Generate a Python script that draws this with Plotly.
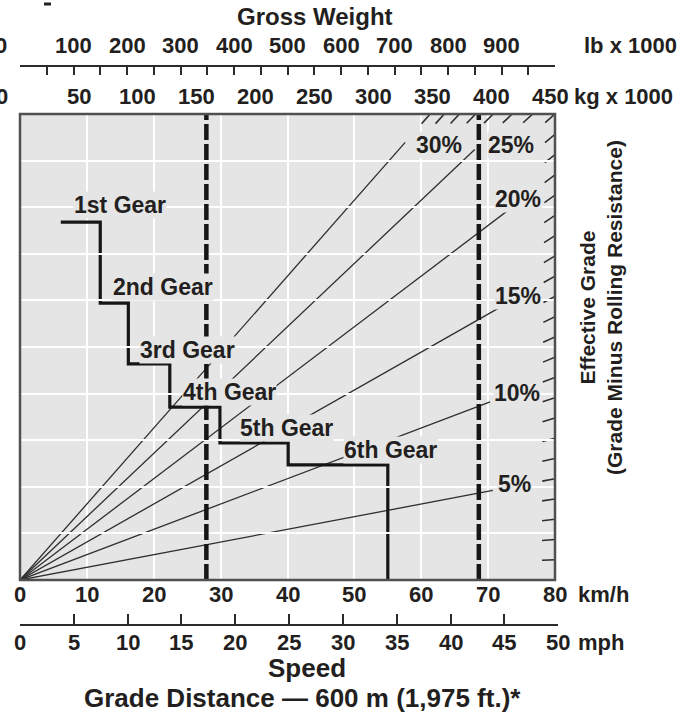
import plotly.graph_objects as go

# ---------------------------------------------------------------- data
GRADES = [5, 10, 15, 20, 25, 30]                    # labelled effective-grade rays, %
GRADE_LINE_END_KMH = [70.7, 70.3, 72.1, 73.6, 68.0, 57.6]  # where each ray stops short of its label
GRADE_TICKS = list(range(1, 31))                    # 1 % hatch marks on the chart border
GRADE_PER_DIV = 2.3                                 # % effective grade per vertical division at full scale

GEAR_NAMES = ["1st Gear", "2nd Gear", "3rd Gear", "4th Gear", "5th Gear", "6th Gear"]
SHIFT_SPEEDS_KMH = [6.1, 12.0, 16.2, 22.4, 29.9, 40.1, 55.0]  # start, upshifts, top speed
GEAR_LEVELS = [7.68, 5.94, 4.64, 3.71, 2.94, 2.47]           # rimpull plateau per gear (divisions)

WEIGHT_MARKS_KG = [158, 389]                        # empty / gross machine weight, kg x 1000

KMH_TICKS = [0, 10, 20, 30, 40, 50, 60, 70, 80]
MPH_TICKS = [0, 5, 10, 15, 20, 25, 30, 35, 40, 45, 50]
LB_TICKS = list(range(0, 1001, 50))
LB_LABELS = [100, 200, 300, 400, 500, 600, 700, 800, 900]
KG_LABELS = [50, 100, 150, 200, 250, 300, 350, 400, 450]

KMH_MAX = 80
LB_MAX = 1000
KG_PER_LB = 0.45359237
KMH_PER_MPH = 1.609344
Y_DIVS = 10

# ---------------------------------------------------------------- page geometry
W, H = 697, 724
ML, MR = 20, 130
PW = W - ML - MR


def px(x):
    return (x - ML) / PW


def py(y):
    return (H - y) / H


PLOT_L, PLOT_R, PLOT_T, PLOT_B = 20, 555, 114, 580
X_DOM = [0, px(PLOT_R)]
Y_DOM = [py(PLOT_B), py(PLOT_T)]
MPH_DOM_END = X_DOM[1] * (MPH_TICKS[-1] * KMH_PER_MPH / KMH_MAX)

FONT = "Liberation Sans, Arial, Helvetica, sans-serif"
INK = "#231f20"
BG = "#e5e5e5"
LINE = "#2b2b2b"

fig = go.Figure()


def grade_y(g, x):
    return g / GRADE_PER_DIV * x / KMH_MAX


# effective-grade rays from the origin
for g, xe in zip(GRADES, GRADE_LINE_END_KMH):
    fig.add_trace(go.Scatter(
        x=[0, xe], y=[0, grade_y(g, xe)], mode="lines",
        line=dict(color="#2e2e2e", width=1.3), hoverinfo="skip", showlegend=False))

# short 1 % hatch marks where each grade ray meets the border
plot_w, plot_h = PLOT_R - PLOT_L, PLOT_B - PLOT_T
MARK_PX = 13
for g in GRADE_TICKS:
    y_edge = g / GRADE_PER_DIV
    if y_edge <= Y_DIVS:
        xe, ye = KMH_MAX, y_edge
    else:
        xe, ye = KMH_MAX * Y_DIVS / y_edge, Y_DIVS
    length = ((xe / KMH_MAX * plot_w) ** 2 + (ye / Y_DIVS * plot_h) ** 2) ** 0.5
    f = 1 - MARK_PX / length
    fig.add_trace(go.Scatter(
        x=[xe * f, xe], y=[ye * f, ye], mode="lines",
        line=dict(color="#2e2e2e", width=1.6), hoverinfo="skip", showlegend=False))

# rimpull step curve through the gears
fig.add_trace(go.Scatter(
    x=SHIFT_SPEEDS_KMH, y=GEAR_LEVELS + [0], mode="lines", line_shape="hv",
    line=dict(color="#161616", width=3.2), hoverinfo="skip", showlegend=False))

shapes = []
# plot background below the grid
shapes.append(dict(type="rect", xref="x domain", yref="y domain", x0=0, x1=1, y0=0, y1=1,
                   fillcolor=BG, line=dict(width=0), layer="below"))
# empty / loaded weight markers
for kg in WEIGHT_MARKS_KG:
    shapes.append(dict(type="line", xref="x2", yref="y", x0=kg, x1=kg, y0=0, y1=Y_DIVS,
                       line=dict(color="#161616", width=4.5, dash="16px,4px"), layer="above"))
# chart frame
shapes.append(dict(type="rect", xref="x domain", yref="y domain", x0=0, x1=1, y0=0, y1=1,
                   line=dict(color="#505050", width=2.5), layer="above"))
# stray rule fragment at the top-left of the page
shapes.append(dict(type="line", xref="paper", yref="paper", x0=px(44), x1=px(51),
                   y0=py(4), y1=py(4), line=dict(color=INK, width=3)))

ann = []


def text(x, y, s, size, xref="paper", yref="paper", xanchor="center", **kw):
    ann.append(dict(x=x, y=y, xref=xref, yref=yref, text=s, showarrow=False,
                    xanchor=xanchor, yanchor="middle",
                    font=dict(family=FONT, size=size, color=INK, weight="bold"), **kw))


TICK_FS = 22
UNIT_FS = 22
LABEL_FS = 23

# top scales
text(px(315), py(16), "Gross Weight", 24)
text(px(1), py(45), "0", TICK_FS)
for v in LB_LABELS:
    text(v, py(45), str(v), TICK_FS, xref="x3")
text(px(582), py(45), "lb x 1000", UNIT_FS, xanchor="left")
text(px(2), py(97), "0", TICK_FS)
for v in KG_LABELS:
    text(v, py(97), str(v), TICK_FS, xref="x2")
text(px(572), py(97), "kg x 1000", UNIT_FS, xanchor="left")

# bottom scales
for v in KMH_TICKS:
    text(v, py(594), str(v), TICK_FS, xref="x")
text(px(576), py(594), "km/h", UNIT_FS, xanchor="left")
for v in MPH_TICKS:
    text(v, py(642), str(v), TICK_FS, xref="x4")
text(px(576), py(642), "mph", UNIT_FS, xanchor="left")
text(px(307), py(668), "Speed", 26)
text(px(302), py(698), "Grade Distance \u2014 600 m (1,975 ft.)*", 26)

# side title
text(px(601), py(308), "Effective Grade<br>(Grade Minus Rolling Resistance)", 21,
     textangle=-90)

# gear labels
GEAR_LABEL_POS = [(14.95, 8.05), (21.38, 6.29), (25.12, 4.94),
                  (31.40, 4.03), (39.78, 3.26), (55.33, 2.79)]
for name, (x, y) in zip(GEAR_NAMES, GEAR_LABEL_POS):
    text(x, y, name, LABEL_FS, xref="x", yref="y", bgcolor=BG, borderpad=0)

# grade labels
GRADE_LABEL_POS = [(74.0, 2.06), (74.3, 4.01), (74.47, 6.09),
                   (74.47, 8.18), (73.4, 9.33), (62.7, 9.33)]
for g, (x, y) in zip(GRADES, GRADE_LABEL_POS):
    text(x, y, f"{g}%", LABEL_FS, xref="x", yref="y", bgcolor=BG, borderpad=0)

axis_common = dict(showgrid=False, zeroline=False, showticklabels=False)

fig.update_layout(
    width=W, height=H,
    margin=dict(l=ML, r=MR, t=0, b=0, pad=0),
    paper_bgcolor="white", plot_bgcolor="rgba(0,0,0,0)",
    showlegend=False,
    xaxis=dict(domain=X_DOM, range=[0, KMH_MAX], tickvals=KMH_TICKS[1:-1],
               showgrid=True, gridcolor="white", gridwidth=2,
               zeroline=False, showticklabels=False, ticks="", showline=False),
    yaxis=dict(domain=Y_DOM, range=[0, Y_DIVS], dtick=1,
               showgrid=True, gridcolor="white", gridwidth=2,
               zeroline=False, showticklabels=False, ticks="", showline=False),
    # kg scale along the top edge of the chart
    xaxis2=dict(overlaying="x", range=[0, LB_MAX * KG_PER_LB], visible=False, **axis_common),
    # lb scale with its own rule above
    xaxis3=dict(overlaying="x", anchor="free", position=py(66), side="top",
                range=[0, LB_MAX], tickvals=LB_TICKS, ticks="inside", ticklen=8,
                tickwidth=2, tickcolor=LINE, showline=True, linewidth=2, linecolor=LINE,
                **axis_common),
    # mph rule below the chart
    xaxis4=dict(domain=[0, MPH_DOM_END], anchor="free", position=py(625), side="bottom",
                range=[0, MPH_TICKS[-1]], tickvals=MPH_TICKS, ticks="inside", ticklen=10,
                tickwidth=2, tickcolor=LINE, showline=True, linewidth=2, linecolor=LINE,
                **axis_common),
    shapes=shapes,
    annotations=ann,
)

fig.write_html("out.html")
